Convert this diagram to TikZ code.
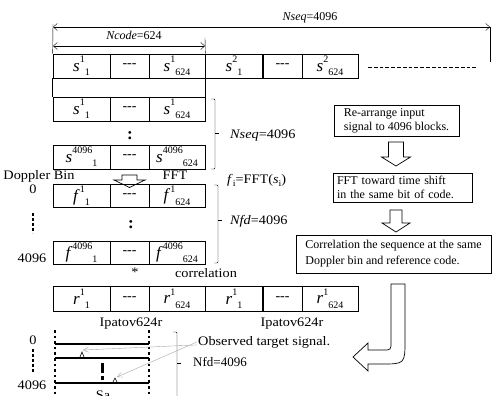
\documentclass[tikz,border=0pt]{standalone}
\usepackage{fontspec}
\setmainfont{Liberation Serif}
\newfontfamily\widefont[FakeStretch=1.1]{Liberation Serif}
\usetikzlibrary{arrows.meta}
\newcommand\sz[1]{\fontsize{#1}{#1}\selectfont}
\newcommand\cv[3]{\textit{\sz{17}#1}\raisebox{0.62em}{\sz{10}#2}\raisebox{-0.3em}{\sz{10}#3}}
\newcommand\brk[4]{\draw[thin,rounded corners=1pt] (#1-4,#2) -- (#1,#2) -- (#1,#3) -- (#1-4,#3); \draw[thin] (#1,#4) -- (#1+4,#4);}
\begin{document}
\begin{tikzpicture}[x=1pt,y=-1pt,
  cell/.style={draw, line width=0.7pt, minimum height=24pt, inner sep=0pt, font=\sz{14}},
  wa/.style={minimum width=57pt}, wb/.style={minimum width=39pt}, wc/.style={minimum width=56pt},
  lab/.style={inner sep=0pt, anchor=base, font=\widefont\sz{13}},
  smalllab/.style={inner sep=0pt, anchor=base, font=\sz{12}},
  box/.style={draw, line width=0.7pt, align=left, inner xsep=4pt, inner ysep=3pt, font=\fontsize{12}{14}\selectfont},
  dim/.style={thin, {Straight Barb[length=4pt,width=7pt]}-{Straight Barb[length=4pt,width=7pt]}},
  blockarrow/.style={draw, line width=0.7pt, fill=white},
  thickdots/.style={line width=2.6pt, dash pattern=on 2.6pt off 3pt},
  gline/.style={line width=2.5pt},
  obsarrow/.style={draw=gray!70, thin, -{Straight Barb[length=5pt,width=5pt]}}
]
\useasboundingbox (0,0) rectangle (495,396);

% ---- row 1
\node[cell,wa] (a1) at (81.5,66) {\cv{s}{1}{1}};
\node[cell,wb] (a2) at (129.5,66) {-{}-{}-};
\node[cell,wc] (a3) at (177,66) {\cv{s}{1}{624}};
\node[cell,wa] (a4) at (234,66) {\cv{s}{2}{1}};
\node[cell,wb] (a5) at (282.5,66) {-{}-{}-};
\node[cell,wc] (a6) at (330,66) {\cv{s}{2}{624}};
\coordinate (dl) at (368,67); \coordinate (dr) at (478,67);
\draw[line width=0.6pt, dash pattern=on 3.8pt off 2pt] (dl) -- (dr);

% dimension arrows
\coordinate (nsl) at (53,27); \coordinate (nsr) at (490,27);
\draw[dim] (nsl) -- (nsr);
\coordinate (nsl0) at (53,24);
\draw[thin] (nsl0) -- (a1.north west);
\coordinate (nsrb) at (490,62);
\draw[thin] (nsr) -- (nsrb);
\node[smalllab] (nseqtop) at (310,21) {\textit{Nseq}=4096};
\coordinate (ncl) at (53,46); \coordinate (ncr) at (205,46);
\draw[dim] (ncl) -- (ncr);
\coordinate (nct) at (205,38);
\draw[thin] (nct) -- (a3.north east);
\node[smalllab] (ncode) at (134,40) {\textit{Ncode}=624};

% ---- row 2
\node[cell,wa] (b1) at (81.5,109) {\cv{s}{1}{1}};
\node[cell,wb] (b2) at (129.5,109) {-{}-{}-};
\node[cell,wc] (b3) at (177,109) {\cv{s}{1}{624}};
\draw[line width=0.7pt] (a1.south west) -- (b1.north west);
\draw[line width=0.7pt] (a3.south east) -- (b3.north east);
\node[lab, font=\bfseries\sz{17}] (col1) at (130,139) {:};
% ---- row 3
\node[cell,wa] (c1) at (81.5,157) {\cv{s}{4096}{1}};
\node[cell,wb] (c2) at (129.5,157) {-{}-{}-};
\node[cell,wc] (c3) at (177,157) {\cv{s}{4096}{624}};
\brk{215}{99}{169}{133}
\node[lab, anchor=base west] (nseqmid) at (230,138) {\textit{Nseq}=4096};

% FFT stage
\node[lab] (dopp) at (39,179) {Doppler Bin};
\node[lab] (fft) at (175,179) {FFT};
\node[lab, anchor=base west] (fdef) at (227,183) {\textit{f}\raisebox{-0.3em}{\sz{9}i}=FFT(\textit{s}\raisebox{-0.3em}{\sz{9}i})};
\draw[blockarrow] (122,175) -- (137,175) -- (137,180) -- (145,180) -- (129.5,187.5) -- (114,180) -- (122,180) -- cycle;

% ---- row 4 / 5
\begin{scope}[cell/.append style={minimum height=23pt}]
\node[cell,wa] (d1) at (81.5,195.5) {\cv{f}{1}{1}};
\node[cell,wb] (d2) at (129.5,195.5) {-{}-{}-};
\node[cell,wc] (d3) at (177,195.5) {\cv{f}{1}{624}};
\node[cell,wa] (e1) at (81.5,252.5) {\cv{f}{4096}{1}};
\node[cell,wb] (e2) at (129.5,252.5) {-{}-{}-};
\node[cell,wc] (e3) at (177,252.5) {\cv{f}{4096}{624}};
\end{scope}
\node[lab, font=\bfseries\sz{17}] (col2) at (131,228) {:};
\node[lab] (z1) at (33,193) {0};
\coordinate (zd1) at (33,213); \coordinate (zd2) at (33,233);
\draw[thickdots, dash pattern=on 2.6pt off 2.4pt] (zd1) -- (zd2);
\node[lab] (n1) at (32,262) {4096};
\brk{218}{185}{263}{220}
\node[lab, anchor=base west] (nfd) at (230,224) {\textit{Nfd}=4096};

% correlation
\node[lab, anchor=center] (star) at (135,272) {*};
\node[lab] (corr) at (206,277) {correlation};

% ---- row 6
\begin{scope}[cell/.append style={minimum height=25pt}]
\node[cell,wa] (g1) at (81.5,298.5) {\cv{r}{1}{1}};
\node[cell,wb] (g2) at (129.5,298.5) {-{}-{}-};
\node[cell,wc] (g3) at (177,298.5) {\cv{r}{1}{624}};
\node[cell,wa] (g4) at (234,298.5) {\cv{r}{1}{1}};
\node[cell,wb] (g5) at (282.5,298.5) {-{}-{}-};
\node[cell,wc] (g6) at (330,298.5) {\cv{r}{1}{624}};
\end{scope}
\node[lab] (ip1) at (131,326) {Ipatov624r};
\node[lab] (ip2) at (292,326) {Ipatov624r};

% ---- bottom plot
\node[lab] (z2) at (33,344) {0};
\coordinate (zd3) at (33,349); \coordinate (zd4) at (33,373);
\draw[thickdots, dash pattern=on 2.6pt off 2.4pt] (zd3) -- (zd4);
\node[lab] (n2) at (32,389) {4096};
\coordinate (vl1) at (55,330); \coordinate (vl2) at (55,400);
\coordinate (vr1) at (149,330); \coordinate (vr2) at (149,400);
\draw[thickdots] (vl1) -- (vl2);
\draw[thickdots] (vr1) -- (vr2);
\draw[gline] (55,344) -- (149,344);
\draw[gline] (55,358) -- (149,358);
\draw[gline] (55,383) -- (149,383);
\draw[line width=3pt] (102,363) -- (102,373);
\fill (100.5,376) rectangle (103.5,379.5);
\coordinate (pk1) at (82,352); \coordinate (pk2) at (115,378);
\draw[line width=0.6pt] (80,357) -- (pk1) -- (84,357);
\draw[line width=0.6pt] (113,382) -- (pk2) -- (117,382);
\node[lab, anchor=north] (sa) at (103,391) {Sa};
\brk{177}{332}{402}{363}
\node[lab, anchor=base west] (obs) at (198,345) {Observed target signal.};
\node[lab, font=\sz{13}, anchor=base west] (nfd2) at (193,366) {Nfd=4096};
\draw[obsarrow] ([xshift=-1pt,yshift=-3pt]obs.west) -- ([xshift=1pt,yshift=2pt]pk1);
\draw[obsarrow] ([xshift=-1pt,yshift=0pt]obs.west) -- ([xshift=2pt,yshift=1pt]pk2);

% ---- right flow
\node[box, minimum width=125pt, minimum height=31pt] (bx1) at (396.5,120.5) {Re-arrange input\\signal to 4096 blocks.};
\node[box, text width=131pt, minimum height=29pt] (bx2) at (402.5,187.5) {FFT toward time shift\\in the same bit of code.};
\node[box, minimum width=195pt, minimum height=38pt, font=\fontsize{12}{16}\selectfont] (bx3) at (393.5,254) {Correlation the sequence at the same\\Doppler bin and reference code.};
\draw[blockarrow] (388.5,142) -- (403.5,142) -- (403.5,157) -- (410.5,157) -- (396,166) -- (381.5,157) -- (388.5,157) -- cycle;
\draw[blockarrow] (390,210) -- (402,210) -- (402,223) -- (410,223) -- (396,232) -- (382,223) -- (390,223) -- cycle;
\draw[blockarrow] (391,284) -- (405,284) -- (405,340) .. controls (405,364) .. (381,364) -- (368,364) -- (368,371) -- (353,357) -- (368,343) -- (368,350) -- (383,350) .. controls (391,350) .. (391,342) -- cycle;
\end{tikzpicture}
\end{document}
